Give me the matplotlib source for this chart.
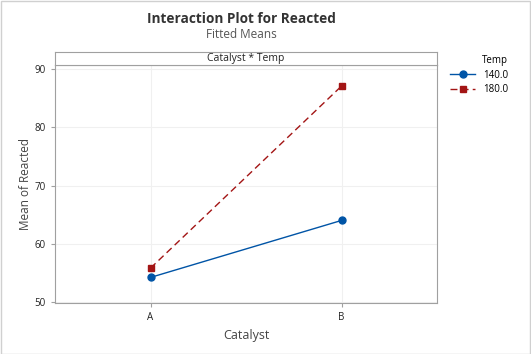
import matplotlib
matplotlib.use('Agg')
import matplotlib.pyplot as plt
from matplotlib.patches import Rectangle

plt.rcParams['font.family'] = ['Open Sans', 'DejaVu Sans']

catalyst = ['A', 'B']
temps = ['140.0', '180.0']
means_140 = [54.2, 64.0]
means_180 = [55.8, 87.1]
yticks = [50, 60, 70, 80, 90]

fig = plt.figure(figsize=(5.31, 3.54), dpi=100)
fig.patch.set_facecolor('white')
# thin outer frame
fig.patches.append(Rectangle((0.001, 0.001), 0.997, 0.996, transform=fig.transFigure,
                             fill=False, edgecolor='#d0d0d0', lw=1))

ax = fig.add_axes([0.1036, 0.144, 0.7194, 0.672])
x = range(len(catalyst))
ax.plot(x, means_140, color='#0054a6', lw=1, marker='o', ms=5, label=temps[0])
ax.plot(x, means_180, color='#a31515', lw=1, ls=(0, (5, 3)), marker='s', ms=5,
        label=temps[1])

ax.set_xlim(-0.5, 1.5)
ax.set_ylim(49.8, 90.7)
ax.set_xticks(list(x))
ax.set_xticklabels(catalyst)
ax.set_yticks(yticks)
ax.grid(True, color='#f0f0f0', lw=0.8)
ax.set_axisbelow(True)
for s in ax.spines.values():
    s.set_color('#a0a0a0')
ax.tick_params(labelsize=7, colors='#a0a0a0', labelcolor='#222222', length=3, width=0.8)
ax.set_xlabel('Catalyst', fontsize=9, color='#444444', labelpad=4)
ax.set_ylabel('Mean of Reacted', fontsize=8.5, color='#444444', labelpad=2)

# strip header
strip = fig.add_axes([0.1036, 0.816, 0.7194, 0.037])
strip.set_xticks([])
strip.set_yticks([])
for s in strip.spines.values():
    s.set_color('#a0a0a0')
strip.text(0.5, 0.5, 'Catalyst * Temp', ha='center', va='center', fontsize=7.5,
           color='#222222', transform=strip.transAxes)

fig.text(0.454, 0.945, 'Interaction Plot for Reacted', ha='center', va='center',
         fontsize=9.8, fontweight='bold', color='#333333')
fig.text(0.454, 0.902, 'Fitted Means', ha='center', va='center', fontsize=8.5,
         color='#555555')

leg = fig.legend(loc='upper left', bbox_to_anchor=(0.84, 0.855), frameon=False,
                 title='Temp', fontsize=7, title_fontsize=7, handlelength=2.6,
                 labelspacing=0.35, borderaxespad=0)
leg._legend_box.align = 'right'

fig.savefig('out.png', dpi=100)
